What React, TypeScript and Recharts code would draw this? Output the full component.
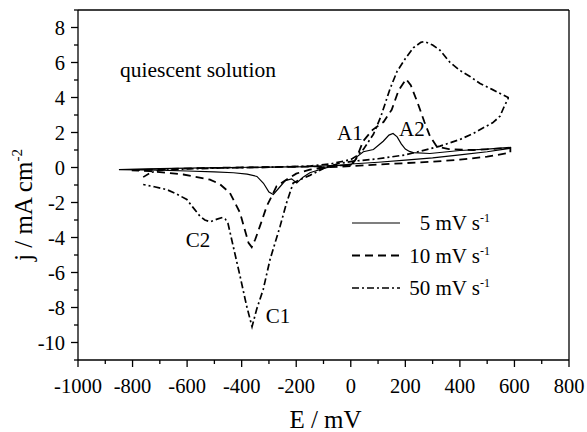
import React from 'react';
import { LineChart, Line, XAxis, YAxis, ReferenceLine, ReferenceDot, Legend, Label } from 'recharts';

// scan rate labels (mV s-1)
const rates = ['5', '10', '50'];

// 5 mV/s : anodic sweep from -850 then cathodic back
const e5 = [-850, -750, -600, -450, -300, -150, -76, 0, 15, 21, 46, 83, 119, 140, 155, 170, 185, 200, 215, 229, 290, 400, 500, 585,
  585, 500, 400, 300, 200, 100, 0, -64, -100, -130, -150, -175, -198, -217, -240, -265, -284, -300, -320, -344, -380, -430, -500, -600, -700, -850];
const j5 = [-0.12, -0.08, -0.04, 0.0, 0.02, 0.05, 0.1, 0.14, 0.36, 0.6, 0.9, 1.03, 1.5, 1.85, 1.94, 1.75, 1.35, 1.05, 0.92, 0.85, 0.8, 0.97, 1.05, 1.15,
  1.1, 0.9, 0.72, 0.55, 0.42, 0.3, 0.2, 0.07, -0.05, -0.2, -0.3, -0.55, -0.88, -0.65, -0.75, -1.2, -1.54, -1.4, -0.9, -0.51, -0.38, -0.3, -0.25, -0.2, -0.15, -0.12];

// 10 mV/s
const e10 = [-803, -700, -550, -400, -250, -100, 0, 20, 45, 80, 120, 150, 175, 203, 220, 245, 270, 290, 315, 360, 450, 585,
  585, 500, 400, 300, 200, 100, 0, -100, -150, -200, -235, -272, -308, -333, -350, -363, -375, -382, -406, -443, -480, -516, -614, -736, -803];
const j10 = [-0.17, -0.1, -0.03, 0.0, 0.03, 0.07, 0.15, 0.5, 1.5, 2.15, 2.6, 3.3, 4.4, 5.05, 4.7, 3.7, 2.6, 1.8, 1.2, 1.05, 1.0, 1.12,
  0.85, 0.62, 0.45, 0.33, 0.25, 0.17, 0.08, 0.0, -0.12, -0.35, -0.69, -1.07, -2.21, -3.35, -4.1, -4.55, -4.3, -3.92, -2.59, -1.45, -0.95, -0.69, -0.4, -0.21, -0.17];

// 50 mV/s
const e50 = [-761, -735, -707, -600, -450, -300, -150, -76, 0, 20, 46, 83, 110, 144, 170, 199, 230, 257, 270, 300, 327, 364, 400, 437, 474, 520, 577,
  577, 560, 547, 520, 486, 450, 400, 327, 254, 200, 100, 9, -50, -100, -150, -186, -211, -235, -259, -296, -321, -345, -362, -382, -406, -431, -450, -460, -470, -490, -515, -535, -553, -580, -601, -640, -675, -720, -761];
const j50 = [-0.55, -0.3, -0.17, -0.08, -0.02, 0.02, 0.08, 0.2, 0.45, 0.65, 1.03, 1.9, 2.9, 4.5, 5.5, 6.2, 6.85, 7.15, 7.2, 7.0, 6.7, 6.0, 5.55, 5.2, 4.8, 4.45, 4.0,
  3.95, 3.4, 2.93, 2.55, 2.27, 1.95, 1.6, 1.22, 0.93, 0.72, 0.5, 0.36, 0.2, -0.05, -0.45, -0.69, -0.88, -2.0, -3.35, -5.26, -6.97, -8.1, -9.1, -7.9, -6.2, -4.5, -3.2, -2.95, -2.85, -2.95, -3.1, -3.0, -2.78, -2.25, -1.83, -1.5, -1.26, -1.1, -0.97];

const xTicks = [-1000, -900, -800, -700, -600, -500, -400, -300, -200, -100, 0, 100, 200, 300, 400, 500, 600, 700, 800];
const yTicks = [-11, -10, -9, -8, -7, -6, -5, -4, -3, -2, -1, 0, 1, 2, 3, 4, 5, 6, 7, 8, 9];

const toPts = (e: number[], j: number[]) => e.map((x, i) => ({ x, y: j[i] }));
const series = [
  { name: rates[0], data: toPts(e5, j5), dash: undefined as string | undefined, w: 1.2 },
  { name: rates[1], data: toPts(e10, j10), dash: '8 5', w: 1.8 },
  { name: rates[2], data: toPts(e50, j50), dash: '7 3 2 3', w: 1.7 },
];

const FONT = '"Liberation Serif", "Times New Roman", serif';

const XTick = (p: any) => {
  const v = p.payload.value;
  const major = v % 200 === 0;
  return (
    <g>
      <line x1={p.x} x2={p.x} y1={p.y} y2={p.y + (major ? 7 : 4)} stroke="#000" strokeWidth={1.3} />
      {major && <text x={p.x} y={p.y + 33} textAnchor="middle" fontSize={20.5} fontFamily={FONT} fill="#000">{v}</text>}
    </g>
  );
};

const YTick = (p: any) => {
  const v = p.payload.value;
  const major = v % 2 === 0;
  return (
    <g>
      <line x1={p.x - (major ? 7 : 4)} x2={p.x} y1={p.y} y2={p.y} stroke="#000" strokeWidth={1.3} />
      {major && <text x={p.x - 13} y={p.y + 7} textAnchor="end" fontSize={20.5} fontFamily={FONT} fill="#000">{v}</text>}
    </g>
  );
};

const LegendBox = () => (
  <svg width={170} height={100}>
    {series.map((s, i) => (
      <g key={s.name}>
        <line x1={12} x2={60} y1={18 + i * 32.5} y2={18 + i * 32.5} stroke="#000" strokeWidth={s.w} strokeDasharray={s.dash} />
        <text x={150} y={25 + i * 32.5} textAnchor="end" fontSize={21} fontFamily={FONT} fill="#000">
          {s.name} mV s<tspan dy={-8} fontSize={12}>-1</tspan>
        </text>
      </g>
    ))}
  </svg>
);

const note = (x: number, y: number, text: string, size = 21) => (
  <ReferenceDot key={text} x={x} y={y} r={0} fill="none" stroke="none"
    label={{ value: text, position: 'center', fontSize: size, fontFamily: FONT, fill: '#000' }} />
);

export default function App() {
  return (
    <div style={{ position: 'absolute', left: 0, top: 0, width: 587, height: 432, background: '#fff', fontFamily: FONT }}>
      <LineChart width={587} height={432} margin={{ top: 10, right: 18, left: 18, bottom: 32 }}>
        <XAxis dataKey="x" type="number" domain={[-1000, 800]} ticks={xTicks} interval={0} allowDataOverflow
          tick={<XTick />} tickLine={false} tickSize={0} tickMargin={0} height={40}
          axisLine={{ stroke: '#000', strokeWidth: 1.3 }}>
          <Label content={(p: any) => {
            const vb = p.viewBox;
            return <text x={vb.x + vb.width / 2 + 2} y={428} textAnchor="middle" fontSize={25} fontFamily={FONT} fill="#000">E / mV</text>;
          }} />
        </XAxis>
        <YAxis type="number" domain={[-11, 9]} ticks={yTicks} interval={0} allowDataOverflow
          tick={<YTick />} tickLine={false} tickSize={0} tickMargin={0} width={60}
          axisLine={{ stroke: '#000', strokeWidth: 1.3 }}>
          <Label content={(p: any) => {
            const vb = p.viewBox;
            const cy = vb.y + vb.height / 2 + 20;
            return (
              <text transform={`translate(32,${cy}) rotate(-90)`} textAnchor="middle" fontSize={25} fontFamily={FONT} fill="#000">
                j / mA cm<tspan dy={-10} fontSize={15}>-2</tspan>
              </text>
            );
          }} />
        </YAxis>
        <ReferenceLine y={9} stroke="#000" strokeWidth={1.3} />
        <ReferenceLine x={800} stroke="#000" strokeWidth={1.3} />
        {series.map((s) => (
          <Line key={s.name} data={s.data} dataKey="y" name={s.name} type="linear" stroke="#000"
            strokeWidth={s.w} strokeDasharray={s.dash} dot={false} isAnimationActive={false} />
        ))}
        {note(-560, 5.6, 'quiescent solution', 21.5)}
        {note(-3, 2.0, 'A1')}
        {note(224, 2.25, 'A2')}
        {note(-560, -4.1, 'C2')}
        {note(-267, -8.46, 'C1')}
        <Legend layout="horizontal" verticalAlign="middle" align="center" content={() => <LegendBox />}
          wrapperStyle={{ left: 340, top: 205, width: 170, height: 100 }} />
      </LineChart>
    </div>
  );
}
